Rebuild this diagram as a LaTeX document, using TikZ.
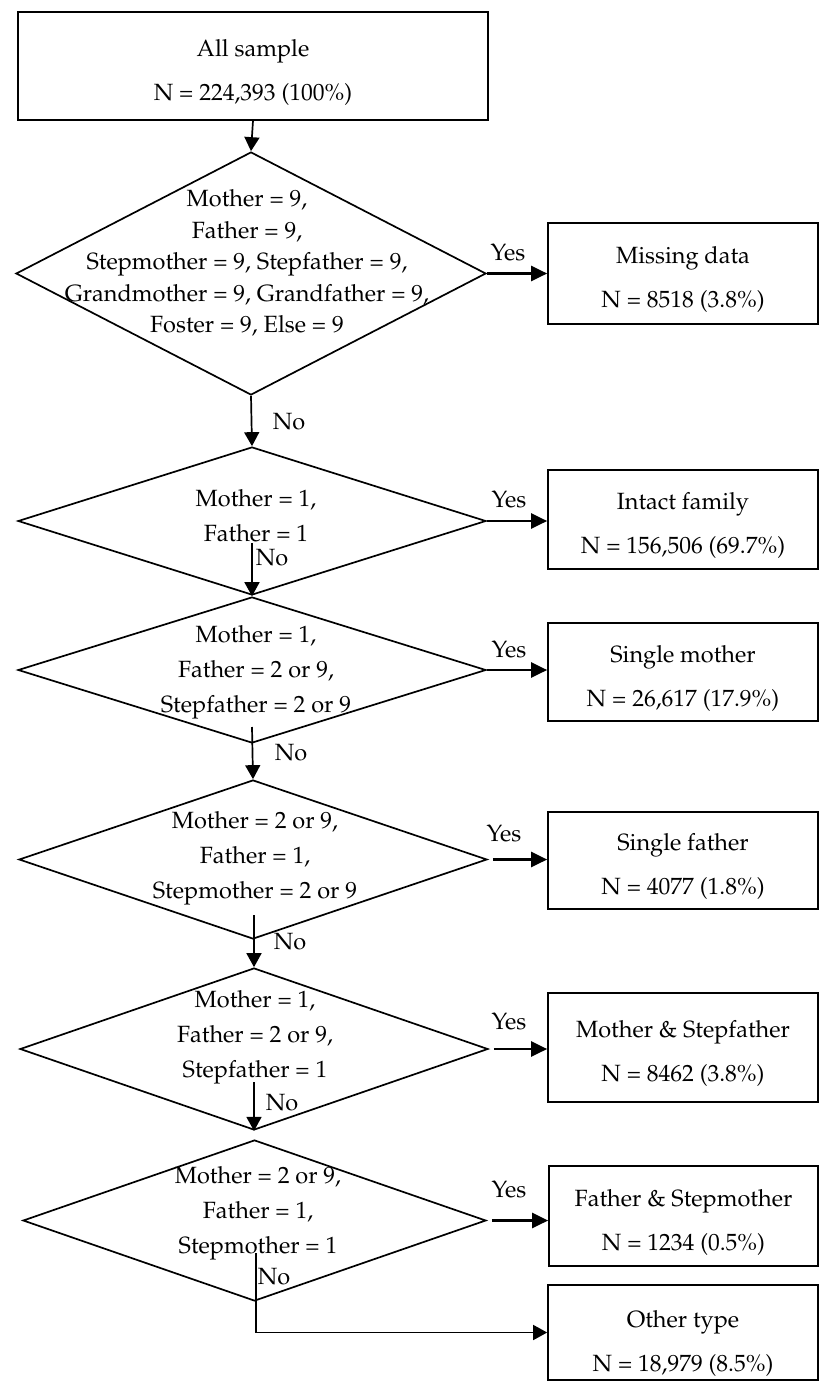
\documentclass[tikz,border=0pt]{standalone}
\usepackage[T1]{fontenc}
\usepackage{mathpazo}
\usetikzlibrary{arrows.meta,shapes.geometric}
\newcommand{\topstrut}{\rule{0pt}{29pt}}
\newcommand{\tallstrut}{\rule{0pt}{39pt}}
\tikzset{
  box/.style={draw, line width=1.7pt, rectangle, minimum width=270pt, minimum height=#1, inner sep=0pt, align=center, font=\fontsize{23.5}{44}\selectfont},
  dia/.style={draw, line width=1.7pt, diamond, inner sep=0pt, minimum width=#1},
  cond/.style={align=center, inner sep=0pt, font=\fontsize{23.5}{35}\selectfont},
  lab/.style={inner sep=0pt, font=\fontsize{23.5}{28}\selectfont},
  yesarrow/.style={line width=2.3pt, -{Triangle[length=16pt,width=15pt]}},
  noarrow/.style={line width=1.7pt, -{Triangle[length=14pt,width=15pt]}},
}
\begin{document}
\begin{tikzpicture}[x=1pt,y=-1pt]
\useasboundingbox (0,0) rectangle (819,1381);

% start box
\node[box=108pt, minimum width=470pt] (b0) at (253,66) {\topstrut All sample\\N = 224,393 (100\%)};

% diamonds
\node[dia=470pt, minimum height=243pt] (d1) at (251,273.5) {};
\node[dia=468pt, minimum height=148pt] (d2) at (252,521) {};
\node[dia=468pt, minimum height=146pt] (d3) at (252,670) {};
\node[dia=468pt, minimum height=159pt] (d4) at (253,859.5) {};
\node[dia=468pt, minimum height=162pt] (d5) at (254,1049) {};
\node[dia=463pt, minimum height=161pt] (d6) at (254.5,1220.5) {};

% condition texts
\node[cond, font=\fontsize{23.5}{31.5}\selectfont] (t1) at (247,263) {Mother = 9,\\Father = 9,\\Stepmother = 9, Stepfather = 9,\\Grandmother = 9, Grandfather = 9,\\Foster = 9, Else = 9};
\node[cond] (t2) at (256,516) {Mother = 1,\\Father = 1};
\node[cond] (t3) at (256,672) {Mother = 1,\\Father = 2 or 9,\\Stepfather = 2 or 9};
\node[cond] (t4) at (255,858) {Mother = 2 or 9,\\Father = 1,\\Stepmother = 2 or 9};
\node[cond] (t5) at (255,1037) {Mother = 1,\\Father = 2 or 9,\\Stepfather = 1};
\node[cond] (t6) at (258,1213) {Mother = 2 or 9,\\Father = 1,\\Stepmother = 1};

% outcome boxes
\node[box=101pt] (b1) at (683,273.5) {\topstrut Missing data\\N = 8518 (3.8\%)};
\node[box=99pt]  (b2) at (683,519.5) {\topstrut Intact family\\N = 156,506 (69.7\%)};
\node[box=98pt]  (b3) at (683,672) {\topstrut Single mother\\N = 26,617 (17.9\%)};
\node[box=97pt]  (b4) at (683,860.5) {\topstrut Single father\\N = 4077 (1.8\%)};
\node[box=109pt] (b5) at (683,1047.5) {\topstrut Mother \& Stepfather\\N = 8462 (3.8\%)};
\node[box=100pt, minimum width=269pt] (b6) at (683.5,1216) {\topstrut Father \& Stepmother\\N = 1234 (0.5\%)};
\node[box=95pt]  (b7) at (683,1332.5) {\tallstrut Other type\\N = 18,979 (8.5\%)};

% start points of the "No" connectors
\coordinate (s2) at (252,543);
\coordinate (s3) at (252,727);
\coordinate (s4) at (254,915);
\coordinate (s5) at (254,1082);
\coordinate (s6) at (256,1253);

% vertical connectors
\draw[noarrow] (b0.south) -- (d1.north);
\draw[noarrow] (d1.south) -- (d2.north);
\draw[noarrow] (s2) -- (d3.north);
\draw[noarrow] (s3) -- (d4.north);
\draw[noarrow] (s4) -- (d5.north);
\draw[noarrow] (s5) -- (d5.south);
\draw[noarrow] (s6) |- (b7.west);

% yes connectors
\draw[yesarrow] (d1.east) -- (d1.east -| b1.west);
\draw[yesarrow] (d2.east) -- (d2.east -| b2.west);
\draw[yesarrow] (d3.east) -- (d3.east -| b3.west);
\draw[yesarrow] ([xshift=5pt]d4.east) -- (d4.east -| b4.west);
\draw[yesarrow] ([xshift=5pt]d5.east) -- (d5.east -| b5.west);
\draw[yesarrow] ([xshift=5pt]d6.east) -- (d6.east -| b6.west);

% labels
\node[lab] (y1) at (508,253) {Yes};
\node[lab] (y2) at (509,500) {Yes};
\node[lab] (y3) at (509,650) {Yes};
\node[lab] (y4) at (504,834) {Yes};
\node[lab] (y5) at (509,1022) {Yes};
\node[lab] (y6) at (509,1190) {Yes};
\node[lab] (n1) at (289,422) {No};
\node[lab] (n2) at (272,558) {No};
\node[lab] (n3) at (291,753) {No};
\node[lab] (n4) at (290,942) {No};
\node[lab] (n5) at (282,1103) {No};
\node[lab] (n6) at (274,1277) {No};
\end{tikzpicture}
\end{document}
